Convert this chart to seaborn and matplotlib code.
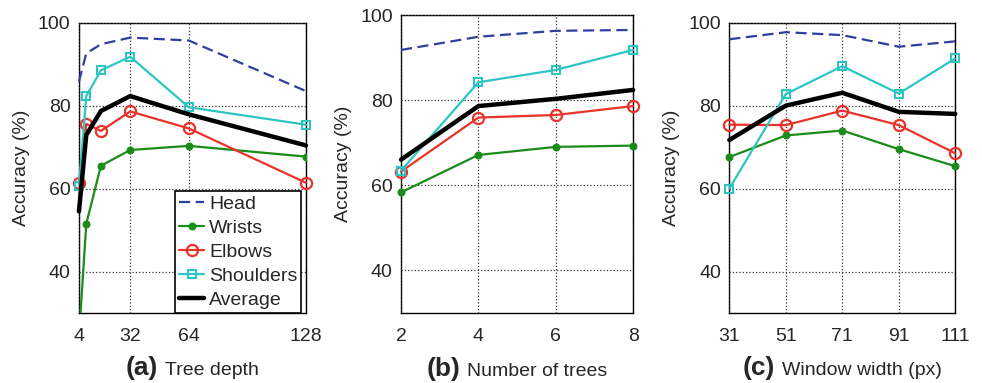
import matplotlib
matplotlib.use("Agg")
import matplotlib.pyplot as plt
import seaborn as sns
from matplotlib.offsetbox import TextArea, HPacker, AnnotationBbox

# -----------------------------
# DATA
# -----------------------------

series_names = ["Head", "Wrists", "Elbows", "Shoulders", "Average"]

# (a) tree depth
depth = [4, 8, 16, 32, 64, 128]
depth_head = [85.8, 92.6, 94.8, 96.4, 95.7, 83.5]
depth_wrists = [24.0, 51.5, 65.5, 69.3, 70.3, 67.7]
depth_elbows = [61.3, 75.6, 73.9, 78.6, 74.5, 61.4]
depth_shoulders = [60.6, 82.3, 88.5, 91.8, 79.6, 75.4]
depth_average = [54.5, 72.9, 78.7, 82.3, 77.9, 70.4]

# (b) number of trees
trees = [2, 4, 6, 8]
trees_head = [91.8, 94.9, 96.3, 96.5]
trees_wrists = [58.3, 67.1, 69.0, 69.3]
trees_elbows = [63.2, 75.9, 76.5, 78.6]
trees_shoulders = [63.4, 84.2, 87.1, 91.8]
trees_average = [66.0, 78.6, 80.3, 82.4]

# (c) window width
window = [31, 51, 71, 91, 111]
window_head = [96.0, 97.7, 97.0, 94.2, 95.5]
window_wrists = [67.6, 72.8, 74.0, 69.5, 65.4]
window_elbows = [75.4, 75.3, 78.8, 75.3, 68.5]
window_shoulders = [60.0, 82.8, 89.5, 82.9, 91.4]
window_average = [71.7, 80.0, 83.1, 78.5, 78.0]

panel_tags = ["(a)", "(b)", "(c)"]
panel_titles = ["Tree depth", "Number of trees", "Window width (px)"]
panel_xticks = [[4, 32, 64, 128], [2, 4, 6, 8], [31, 51, 71, 91, 111]]
yticks = [40, 60, 80, 100]
ymin, ymax = 30, 100

# -----------------------------
# STYLE
# -----------------------------

sns.set_style("white")
plt.rcParams["font.family"] = ["Liberation Sans", "DejaVu Sans"]
plt.rcParams["font.size"] = 14

styles = {
    "Head": dict(color="#2e3f9e", linestyle=(0, (5, 2.5)), linewidth=1.6),
    "Wrists": dict(color="#1a8c1a", marker="o", markersize=5,
                   markeredgecolor="#1a8c1a", linewidth=1.6),
    "Elbows": dict(color="#e8322a", marker="o", markersize=8, markerfacecolor="none",
                   markeredgecolor="#e8322a", markeredgewidth=1.6, linewidth=1.6),
    "Shoulders": dict(color="#2ec4c4", marker="s", markersize=6, markerfacecolor="none",
                      markeredgecolor="#2ec4c4", markeredgewidth=1.5, linewidth=1.6),
    "Average": dict(color="black", linewidth=3.2),
}

panels = [
    (depth, [depth_head, depth_wrists, depth_elbows, depth_shoulders, depth_average]),
    (trees, [trees_head, trees_wrists, trees_elbows, trees_shoulders, trees_average]),
    (window, [window_head, window_wrists, window_elbows, window_shoulders, window_average]),
]

# axes boxes in figure fractions (left, bottom, width, height)
boxes = [
    (0.0804, 0.1828, 0.2312, 0.758),
    (0.4084, 0.1836, 0.2363, 0.777),
    (0.7427, 0.1828, 0.2301, 0.758),
]

fig = plt.figure(figsize=(9.82, 3.83), dpi=100)

for i, ((xs, ys_list), box) in enumerate(zip(panels, boxes)):
    ax = fig.add_axes(box)

    for name, ys in zip(series_names, ys_list):
        kw = dict(styles[name])
        if i == 0:
            kw["label"] = name
        # markers at the edges are drawn whole unless the line leaves the box
        kw["clip_on"] = min(ys) < ymin
        sns.lineplot(x=xs, y=ys, ax=ax, **kw)

    ax.set_xlim(xs[0], xs[-1])
    ax.set_ylim(ymin, ymax)
    ax.set_xticks(panel_xticks[i])
    ax.set_yticks(yticks)
    ax.tick_params(length=0, labelsize=14)
    ax.tick_params(axis="x", pad=11)
    ax.tick_params(axis="y", pad=6)
    ax.grid(True, linestyle=":", color="#333333", linewidth=0.9)
    for sp in ax.spines.values():
        sp.set_color("black")
        sp.set_linewidth(1.0)
        sp.set_zorder(0.5)

    ax.set_ylabel("Accuracy (%)", fontsize=14, labelpad=6)
    ax.set_xlabel("")

    # bold tag + plain title under the axis
    tag = TextArea(panel_tags[i], textprops=dict(fontsize=19, fontweight="bold"))
    title = TextArea(panel_titles[i], textprops=dict(fontsize=14))
    pack = HPacker(children=[tag, title], align="baseline", pad=0, sep=5)
    ab = AnnotationBbox(pack, (0.5, -0.19), xycoords="axes fraction",
                        box_alignment=(0.5, 0.5), frameon=False,
                        annotation_clip=False)
    ax.add_artist(ab)

    if i == 0:
        leg = ax.legend(loc="lower right", bbox_to_anchor=(0.98, 0.0),
                        fontsize=14, frameon=True,
                        fancybox=False, framealpha=1, edgecolor="black",
                        borderaxespad=0.0, borderpad=0.2, labelspacing=0.33,
                        handlelength=1.3, handletextpad=0.25)
        leg.get_frame().set_linewidth(1.2)
    else:
        if ax.get_legend() is not None:
            ax.get_legend().remove()

plt.savefig("out.png", dpi=100)
